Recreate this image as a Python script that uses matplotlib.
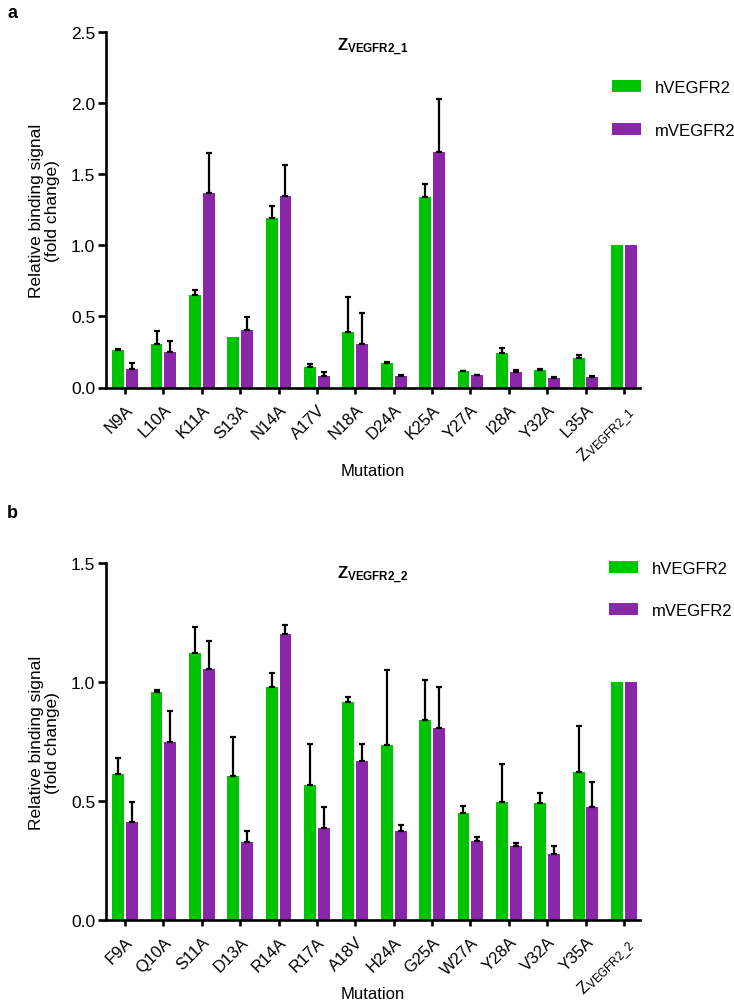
import matplotlib
matplotlib.use("Agg")
import matplotlib.pyplot as plt
import matplotlib.transforms as mtransforms
import numpy as np

plt.rcParams['font.family'] = ['Liberation Sans', 'DejaVu Sans']
plt.rcParams['mathtext.fontset'] = 'custom'
plt.rcParams['mathtext.rm'] = 'Liberation Sans'
plt.rcParams['mathtext.bf'] = 'Liberation Sans:bold'
plt.rcParams['mathtext.it'] = 'Liberation Sans:italic'

# ---------------- data ----------------
series_names = ['hVEGFR2', 'mVEGFR2']

labels_a = ['N9A', 'L10A', 'K11A', 'S13A', 'N14A', 'A17V', 'N18A', 'D24A', 'K25A',
            'Y27A', 'I28A', 'Y32A', 'L35A', r'Z$_{\mathregular{VEGFR2\_1}}$']
h_a = [0.266, 0.308, 0.647, 0.352, 1.193, 0.142, 0.390, 0.175, 1.340, 0.114, 0.243, 0.124, 0.208, 1.0]
h_a_err = [0.004, 0.089, 0.037, 0.0, 0.084, 0.024, 0.245, 0.003, 0.093, 0.004, 0.032, 0.004, 0.018, 0.0]
m_a = [0.128, 0.252, 1.370, 0.401, 1.349, 0.082, 0.303, 0.078, 1.655, 0.086, 0.107, 0.065, 0.075, 1.0]
m_a_err = [0.047, 0.075, 0.280, 0.096, 0.213, 0.025, 0.220, 0.007, 0.375, 0.004, 0.014, 0.007, 0.008, 0.0]

labels_b = ['F9A', 'Q10A', 'S11A', 'D13A', 'R14A', 'R17A', 'A18V', 'H24A', 'G25A',
            'W27A', 'Y28A', 'V32A', 'Y35A', r'Z$_{\mathregular{VEGFR2\_2}}$']
h_b = [0.614, 0.957, 1.124, 0.607, 0.980, 0.569, 0.917, 0.736, 0.841, 0.450, 0.496, 0.491, 0.622, 1.0]
h_b_err = [0.066, 0.009, 0.107, 0.161, 0.057, 0.170, 0.021, 0.315, 0.168, 0.028, 0.160, 0.042, 0.195, 0.0]
m_b = [0.412, 0.747, 1.055, 0.327, 1.203, 0.388, 0.669, 0.373, 0.807, 0.334, 0.310, 0.279, 0.474, 1.0]
m_b_err = [0.083, 0.131, 0.120, 0.046, 0.038, 0.089, 0.073, 0.025, 0.174, 0.015, 0.014, 0.031, 0.108, 0.0]

titles = [r'$\mathbf{Z_{VEGFR2\_1}}$', r'$\mathbf{Z_{VEGFR2\_2}}$']
yticks_a = [0.0, 0.5, 1.0, 1.5, 2.0, 2.5]
yticks_b = [0.0, 0.5, 1.0, 1.5]

GREEN = '#00C400'
PURPLE = '#8A27A8'

W, H = 734, 1003
fig = plt.figure(figsize=(W / 100, H / 100), dpi=100)

def px_axes(left, top, right, bottom):
    return fig.add_axes([left / W, 1 - bottom / H, (right - left) / W, (bottom - top) / H])

ax_a = px_axes(105.5, 32.7, 640, 388.5)
ax_b = px_axes(105.5, 564.3, 640, 921)

shift = mtransforms.ScaledTranslation(3 / 100, 0, fig.dpi_scale_trans)

def draw(ax, labels, h, herr, m, merr, yticks, title, title_y, legend_xy, xlabel_y):
    x = np.arange(len(labels))
    bw, off = 0.31, 0.18
    bh = ax.bar(x - off, h, bw, color=GREEN, label=series_names[0], zorder=2)
    bm = ax.bar(x + off, m, bw, color=PURPLE, label=series_names[1], zorder=2)
    for xs, v, e in ((x - off, h, herr), (x + off, m, merr)):
        v = np.asarray(v); e = np.asarray(e)
        sel = e > 0
        ax.errorbar(xs[sel], v[sel], yerr=[np.zeros(sel.sum()), e[sel]], fmt='none',
                    ecolor='black', elinewidth=1.6, capsize=2.4, capthick=1.6, zorder=3)
    ax.set_xlim(-0.51, 13.42)
    ax.set_ylim(0, yticks[-1])
    ax.set_yticks(yticks)
    ax.set_yticklabels([f'{t:.1f}' for t in yticks])
    ax.set_xticks(x)
    ax.set_xticklabels(labels, rotation=45, ha='right', va='top', rotation_mode='anchor')
    for lab in ax.get_xticklabels():
        lab.set_transform(lab.get_transform() + shift)
    for s in ('top', 'right'):
        ax.spines[s].set_visible(False)
    for s in ('left', 'bottom'):
        ax.spines[s].set_linewidth(1.9)
    ax.tick_params(axis='y', length=5.8, width=1.9, labelsize=12.5, pad=1.5)
    ax.tick_params(axis='x', length=4.5, width=1.9, labelsize=12, pad=5.5)
    ax.set_xlabel('Mutation', fontsize=12, va='center')
    ax.xaxis.set_label_coords(0.5, xlabel_y)
    ax.set_ylabel('Relative binding signal\n(fold change)', fontsize=12.5, labelpad=8,
                  linespacing=1.05)
    ax.text(0.5, title_y, title, transform=ax.transAxes, ha='center', va='center', fontsize=12)
    fig.legend(handles=[bh, bm], labels=series_names, loc='upper left',
               bbox_to_anchor=(legend_xy[0] / W, 1 - legend_xy[1] / H),
               frameon=False, fontsize=12, handlelength=1.75, handleheight=0.7,
               handletextpad=0.85, labelspacing=1.65, borderpad=0, borderaxespad=0)

draw(ax_a, labels_a, h_a, h_a_err, m_a, m_a_err, yticks_a, titles[0], 0.958,
     (611.7, 81), -0.232)
draw(ax_b, labels_b, h_b, h_b_err, m_b, m_b_err, yticks_b, titles[1], 0.97,
     (608.5, 561.5), -0.2047)

fig.text(7 / W, 1 - 14 / H, 'a', fontsize=13, fontweight='bold', ha='left', va='center')
fig.text(7 / W, 1 - 514 / H, 'b', fontsize=13, fontweight='bold', ha='left', va='center')

fig.savefig('out.png', dpi=100)
